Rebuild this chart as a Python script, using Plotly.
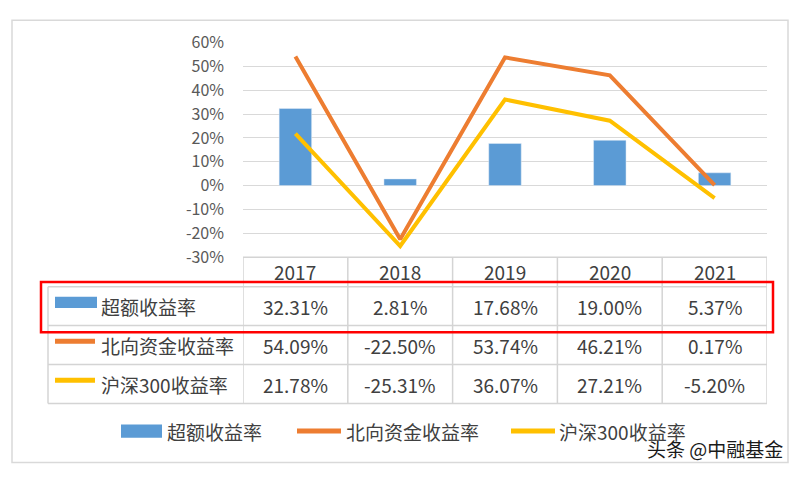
import plotly.graph_objects as go

# ---------------- data ----------------
years = ["2017", "2018", "2019", "2020", "2021"]
excess = [32.31, 2.81, 17.68, 19.00, 5.37]          # 超额收益率
northbound = [54.09, -22.50, 53.74, 46.21, 0.17]    # 北向资金收益率
hs300 = [21.78, -25.31, 36.07, 27.21, -5.20]        # 沪深300收益率
series_names = ["超额收益率", "北向资金收益率", "沪深300收益率"]
tick_vals = [-30, -20, -10, 0, 10, 20, 30, 40, 50, 60]
tick_text = ["-30%", "-20%", "-10%", "0%", "10%", "20%", "30%", "40%", "50%", "60%"]
watermark = "头条 @中融基金"

# ---------------- style ----------------
BLUE = "#5B9BD5"
ORANGE = "#ED7D31"
YELLOW = "#FFC000"
GRID = "#D9D9D9"
TABLE_LINE = "#D4D4D4"
TXT = "#404040"
FONT = "Noto Sans CJK SC"
W, H = 800, 482


def px(x):
    return x / W


def py(y):
    return 1 - y / H


X_DOM = [px(243), px(767)]
Y_TOP, Y_BOT = 31, 257
TABLE_LEFT = 48
ROW_EDGES = [257, 288, 329, 370, 411]

fig = go.Figure()
fig.add_trace(go.Bar(x=years, y=excess, name=series_names[0], marker_color=BLUE,
                     width=0.31, showlegend=False, hoverinfo="skip"))
fig.add_trace(go.Scatter(x=years, y=northbound, name=series_names[1], mode="lines",
                         line=dict(color=ORANGE, width=4), showlegend=False, hoverinfo="skip"))
fig.add_trace(go.Scatter(x=years, y=hs300, name=series_names[2], mode="lines",
                         line=dict(color=YELLOW, width=4), showlegend=False, hoverinfo="skip"))

shapes = []
annotations = []


def txt(x, y, text, xref="paper", xanchor="center", size=19, color=TXT, shadow=None):
    f = dict(family=FONT, size=size, color=color)
    if shadow:
        f["shadow"] = shadow
    return dict(x=x, xref=xref, y=y, yref="paper", text=text, showarrow=False,
                xanchor=xanchor, yanchor="middle", font=f)


# outer border
shapes.append(dict(type="rect", xref="paper", yref="paper", x0=px(12), x1=px(788),
                   y0=py(473), y1=py(7.5), line=dict(color="#D9D9D9", width=1.5)))

# table horizontal lines
shapes.append(dict(type="line", xref="paper", yref="paper", x0=X_DOM[0], x1=X_DOM[1],
                   y0=py(ROW_EDGES[0]), y1=py(ROW_EDGES[0]), line=dict(color=TABLE_LINE, width=1.5)))
for ye in ROW_EDGES[1:]:
    shapes.append(dict(type="line", xref="paper", yref="paper", x0=px(TABLE_LEFT), x1=X_DOM[1],
                       y0=py(ye), y1=py(ye), line=dict(color=TABLE_LINE, width=1.5)))
# table vertical lines
for i in range(len(years) + 1):
    shapes.append(dict(type="line", xref="x", yref="paper", x0=i - 0.5, x1=i - 0.5,
                       y0=py(ROW_EDGES[0]), y1=py(ROW_EDGES[-1]), line=dict(color=TABLE_LINE, width=1.5)))
shapes.append(dict(type="line", xref="paper", yref="paper", x0=px(TABLE_LEFT), x1=px(TABLE_LEFT),
                   y0=py(ROW_EDGES[1]), y1=py(ROW_EDGES[-1]), line=dict(color=TABLE_LINE, width=1.5)))

# header row
hy = (ROW_EDGES[0] + ROW_EDGES[1]) / 2
for i, yr in enumerate(years):
    annotations.append(txt(i, py(hy), yr, xref="x"))

rows = [excess, northbound, hs300]
colors = [BLUE, ORANGE, YELLOW]
for r, (vals, col, nm) in enumerate(zip(rows, colors, series_names)):
    cy = (ROW_EDGES[r + 1] + ROW_EDGES[r + 2]) / 2
    for i, v in enumerate(vals):
        annotations.append(txt(i, py(cy), f"{v:.2f}%", xref="x"))
    annotations.append(txt(px(99), py(cy), nm, xanchor="left"))
    if r == 0:
        shapes.append(dict(type="rect", xref="paper", yref="paper", x0=px(55), x1=px(97),
                           y0=py(cy + 2), y1=py(cy - 10), fillcolor=col, line=dict(width=0)))
    else:
        shapes.append(dict(type="line", xref="paper", yref="paper", x0=px(55), x1=px(95),
                           y0=py(cy - 4), y1=py(cy - 4), line=dict(color=col, width=5)))

# red highlight box around first data row
shapes.append(dict(type="rect", xref="paper", yref="paper", x0=px(41), x1=px(773),
                   y0=py(336), y1=py(283), line=dict(color="#FF0000", width=2.5)))

# bottom legend
LY = 440
shapes.append(dict(type="rect", xref="paper", yref="paper", x0=px(121), x1=px(162),
                   y0=py(LY + 7), y1=py(LY - 7), fillcolor=BLUE, line=dict(width=0)))
annotations.append(txt(px(165), py(LY), series_names[0], xanchor="left"))
shapes.append(dict(type="line", xref="paper", yref="paper", x0=px(297), x1=px(341),
                   y0=py(LY), y1=py(LY), line=dict(color=ORANGE, width=5)))
annotations.append(txt(px(344), py(LY), series_names[1], xanchor="left"))
shapes.append(dict(type="line", xref="paper", yref="paper", x0=px(511), x1=px(555),
                   y0=py(LY), y1=py(LY), line=dict(color=YELLOW, width=5)))
annotations.append(txt(px(557), py(LY), series_names[2], xanchor="left"))

# watermark (overlaps the legend text, as in the original)
annotations.append(txt(px(785), py(458), watermark, xanchor="right", size=19, color="#1a1a1a",
                       shadow="0px 0px 2px #ffffff"))

fig.update_layout(
    width=W, height=H,
    margin=dict(l=0, r=0, t=0, b=0),
    paper_bgcolor="white", plot_bgcolor="white",
    bargap=0.69,
    hovermode=False,
    shapes=shapes, annotations=annotations,
    xaxis=dict(type="category", domain=X_DOM, range=[-0.5, len(years) - 0.5],
               showticklabels=False, showgrid=False, zeroline=False, showline=False),
    yaxis=dict(domain=[py(Y_BOT), py(Y_TOP)], range=[-30, 60], tickvals=tick_vals,
               ticktext=tick_text, showgrid=True, gridcolor=GRID, gridwidth=1,
               zeroline=False, showline=False, ticklabelstandoff=18,
               tickfont=dict(family=FONT, size=16, color="#595959")),
)

fig.write_html("out.html", config={"displayModeBar": False, "staticPlot": True},
               post_script="document.body.style.margin='0';document.body.style.overflow='hidden';")
